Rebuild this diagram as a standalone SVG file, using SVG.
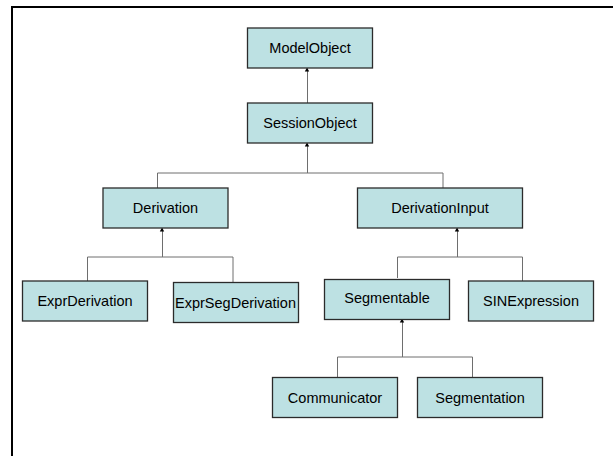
<svg xmlns="http://www.w3.org/2000/svg" width="613" height="456" viewBox="0 0 613 456">
  <style>
    .box { fill: #bde1e3; stroke: #2b2b2b; stroke-width: 1.3; }
    .lbl { font-family: "Liberation Sans", Arial, sans-serif; font-size: 14.5px; fill: #000; text-anchor: middle; }
    .wire { fill: none; stroke: #6e6e6e; stroke-width: 1; }
    .frame { fill: none; stroke: #000; stroke-width: 2; }
  </style>
  <defs>
    <marker id="head" markerUnits="userSpaceOnUse" markerWidth="6" markerHeight="6" refX="3" refY="0.5" orient="auto-start-reverse" viewBox="0 -3 6 6" overflow="visible">
      <path d="M0,-2.2 L4,0 L0,2.2 Z" fill="#000"/>
    </marker>
  </defs>
  <rect width="613" height="456" fill="#fff"/>
  <!-- page frame running off the right and bottom edges -->
  <path class="frame" d="M12,460 V7 H620"/>

  <g id="connectors">
    <!-- SessionObject -> ModelObject -->
    <path class="wire" d="M307.5,103 V68.5" marker-end="url(#head)"/>
    <!-- Derivation / DerivationInput -> SessionObject -->
    <path class="wire" d="M157.5,188 V173 H443 V188"/>
    <path class="wire" d="M307.5,173 V143.5" marker-end="url(#head)"/>
    <!-- ExprDerivation / ExprSegDerivation -> Derivation -->
    <path class="wire" d="M87.5,281 V257 H233 V282"/>
    <path class="wire" d="M162.5,257 V228.5" marker-end="url(#head)"/>
    <!-- Segmentable / SINExpression -> DerivationInput -->
    <path class="wire" d="M397.5,278 V257 H522.5 V281"/>
    <path class="wire" d="M457.5,257 V228.5" marker-end="url(#head)"/>
    <!-- Communicator / Segmentation -> Segmentable -->
    <path class="wire" d="M337.5,377 V357 H472.5 V377"/>
    <path class="wire" d="M402.5,357 V319.5" marker-end="url(#head)"/>
  </g>

  <g id="ModelObject">
    <rect class="box" x="247.5" y="28" width="125" height="40"/>
    <text class="lbl" x="310" y="53">ModelObject</text>
  </g>
  <g id="SessionObject">
    <rect class="box" x="247.5" y="103" width="125" height="40"/>
    <text class="lbl" x="310" y="128">SessionObject</text>
  </g>
  <g id="Derivation">
    <rect class="box" x="103" y="188" width="125" height="40"/>
    <text class="lbl" x="165.5" y="213">Derivation</text>
  </g>
  <g id="DerivationInput">
    <rect class="box" x="357.5" y="188" width="165" height="40"/>
    <text class="lbl" x="440" y="213">DerivationInput</text>
  </g>
  <g id="ExprDerivation">
    <rect class="box" x="22.5" y="281" width="125" height="40"/>
    <text class="lbl" x="85" y="306">ExprDerivation</text>
  </g>
  <g id="ExprSegDerivation">
    <rect class="box" x="173.5" y="282.5" width="125" height="40"/>
    <text class="lbl" x="235.5" y="307.5">ExprSegDerivation</text>
  </g>
  <g id="Segmentable">
    <rect class="box" x="324.5" y="279.5" width="125" height="40"/>
    <text class="lbl" x="387" y="303">Segmentable</text>
  </g>
  <g id="SINExpression">
    <rect class="box" x="468.5" y="281" width="125" height="40"/>
    <text class="lbl" x="531" y="306">SINExpression</text>
  </g>
  <g id="Communicator">
    <rect class="box" x="272.5" y="377.5" width="125" height="40"/>
    <text class="lbl" x="335" y="402.5">Communicator</text>
  </g>
  <g id="Segmentation">
    <rect class="box" x="417.5" y="377.5" width="125" height="40"/>
    <text class="lbl" x="480" y="402.5">Segmentation</text>
  </g>
</svg>
